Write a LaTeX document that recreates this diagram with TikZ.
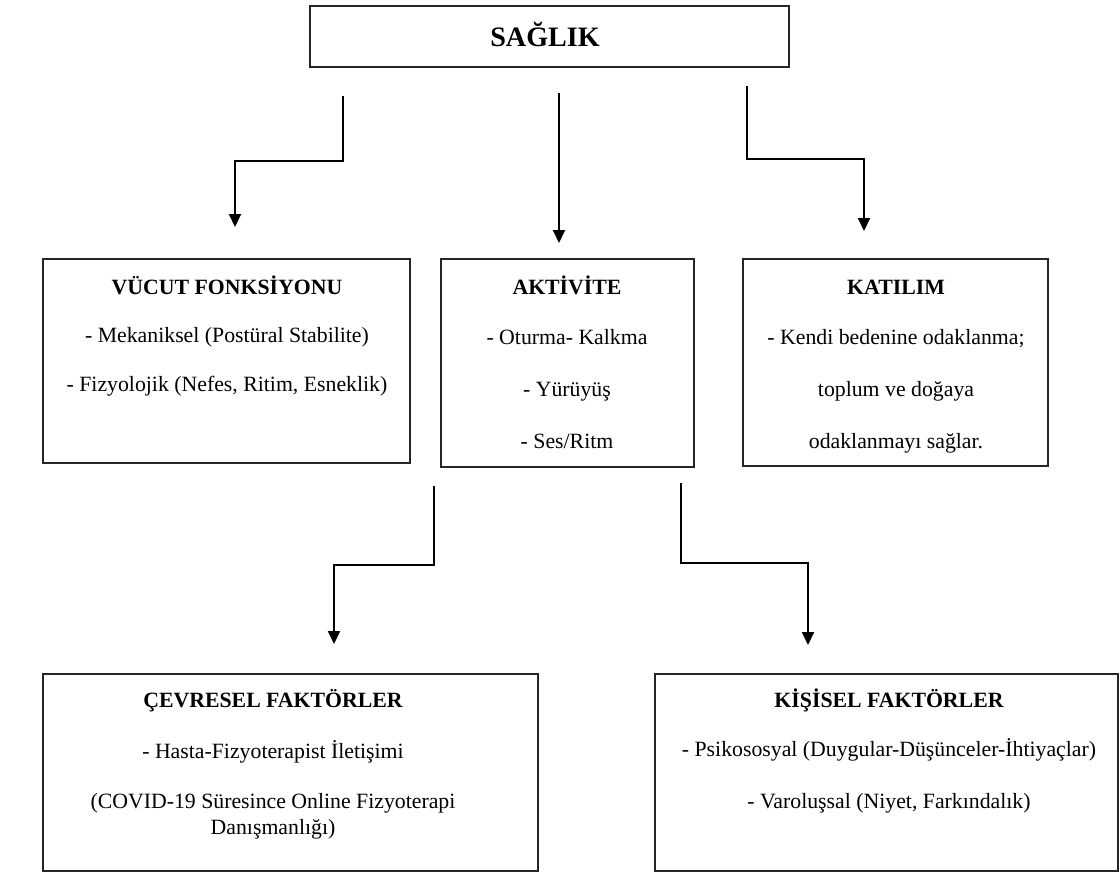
\documentclass[tikz,border=0pt]{standalone}
\usepackage{fontspec}
\setmainfont{Liberation Serif}
\usetikzlibrary{arrows.meta}

\tikzset{
  kutu/.style={draw=black!85, line width=0.9pt},
  baslik/.style={font=\fontsize{12.4}{15}\selectfont\bfseries, anchor=base, inner sep=0pt},
  satir/.style={font=\fontsize{12.4}{15}\selectfont, anchor=base, inner sep=0pt},
  ok/.style={line width=1.1pt, -{Triangle[length=0.26cm,width=0.24cm]}}
}

\begin{document}
\begin{tikzpicture}[x=0.02cm,y=-0.02cm]
    \useasboundingbox (0,0) rectangle (1120,873);

    \node[kutu, minimum width=9.58cm, minimum height=1.22cm] (saglik) at (549.5,36.5) {};
    \node[kutu, minimum width=7.34cm, minimum height=4.08cm] (vucut) at (226.5,361) {};
    \node[kutu, minimum width=5.06cm, minimum height=4.16cm] (aktivite) at (567.5,363) {};
    \node[kutu, minimum width=6.10cm, minimum height=4.14cm] (katilim) at (895.5,362.5) {};
    \node[kutu, minimum width=9.90cm, minimum height=3.94cm] (cevresel) at (290.5,772.5) {};
    \node[kutu, minimum width=9.26cm, minimum height=3.94cm] (kisisel) at (886.5,772.5) {};

    \node[baslik, font=\fontsize{16}{19}\selectfont\bfseries] (saglikt) at (545,46) {SAĞLIK};

    \node[baslik] (vucutt) at (227,294) {VÜCUT FONKSİYONU};
    \node[satir] (vucut1) at (227,342) {- Mekaniksel (Postüral Stabilite)};
    \node[satir] (vucut2) at (227,391) {- Fizyolojik (Nefes, Ritim, Esneklik)};

    \node[baslik] (aktivitet) at (567,294) {AKTİVİTE};
    \node[satir] (aktivite1) at (567,344) {- Oturma- Kalkma};
    \node[satir] (aktivite2) at (567,396) {- Yürüyüş};
    \node[satir] (aktivite3) at (567,448) {- Ses/Ritm};

    \node[baslik] (katilimt) at (896,294) {KATILIM};
    \node[satir] (katilim1) at (896,344) {- Kendi bedenine odaklanma;};
    \node[satir] (katilim2) at (896,396) {toplum ve doğaya};
    \node[satir] (katilim3) at (896,448) {odaklanmayı sağlar.};

    \node[baslik] (cevreselt) at (273,707) {ÇEVRESEL FAKTÖRLER};
    \node[satir] (cevresel1) at (273,758) {- Hasta-Fizyoterapist İletişimi};
    \node[satir] (cevresel2) at (273,808) {(COVID-19 Süresince Online Fizyoterapi};
    \node[satir] (cevresel3) at (273,834) {Danışmanlığı)};

    \node[baslik] (kisiselt) at (889,707) {KİŞİSEL FAKTÖRLER};
    \node[satir] (kisisel1) at (889,756) {- Psikososyal (Duygular-Düşünceler-İhtiyaçlar)};
    \node[satir] (kisisel2) at (889,808) {- Varoluşsal (Niyet, Farkındalık)};

    \coordinate (a1s) at (343,96);
    \coordinate (a1e) at (235,227);
    \coordinate (a2s) at (559,93);
    \coordinate (a2e) at (559,243);
    \coordinate (a3s) at (747,86);
    \coordinate (a3e) at (864,231);
    \coordinate (a4s) at (434,486);
    \coordinate (a4e) at (334,644);
    \coordinate (a5s) at (681,483);
    \coordinate (a5e) at (808,645);

    \draw[ok] (a1s) -- ++(0,65) -| (a1e);
    \draw[ok] (a2s) -- (a2e);
    \draw[ok] (a3s) -- ++(0,73) -| (a3e);
    \draw[ok] (a4s) -- ++(0,79) -| (a4e);
    \draw[ok] (a5s) -- ++(0,80) -| (a5e);
\end{tikzpicture}
\end{document}
